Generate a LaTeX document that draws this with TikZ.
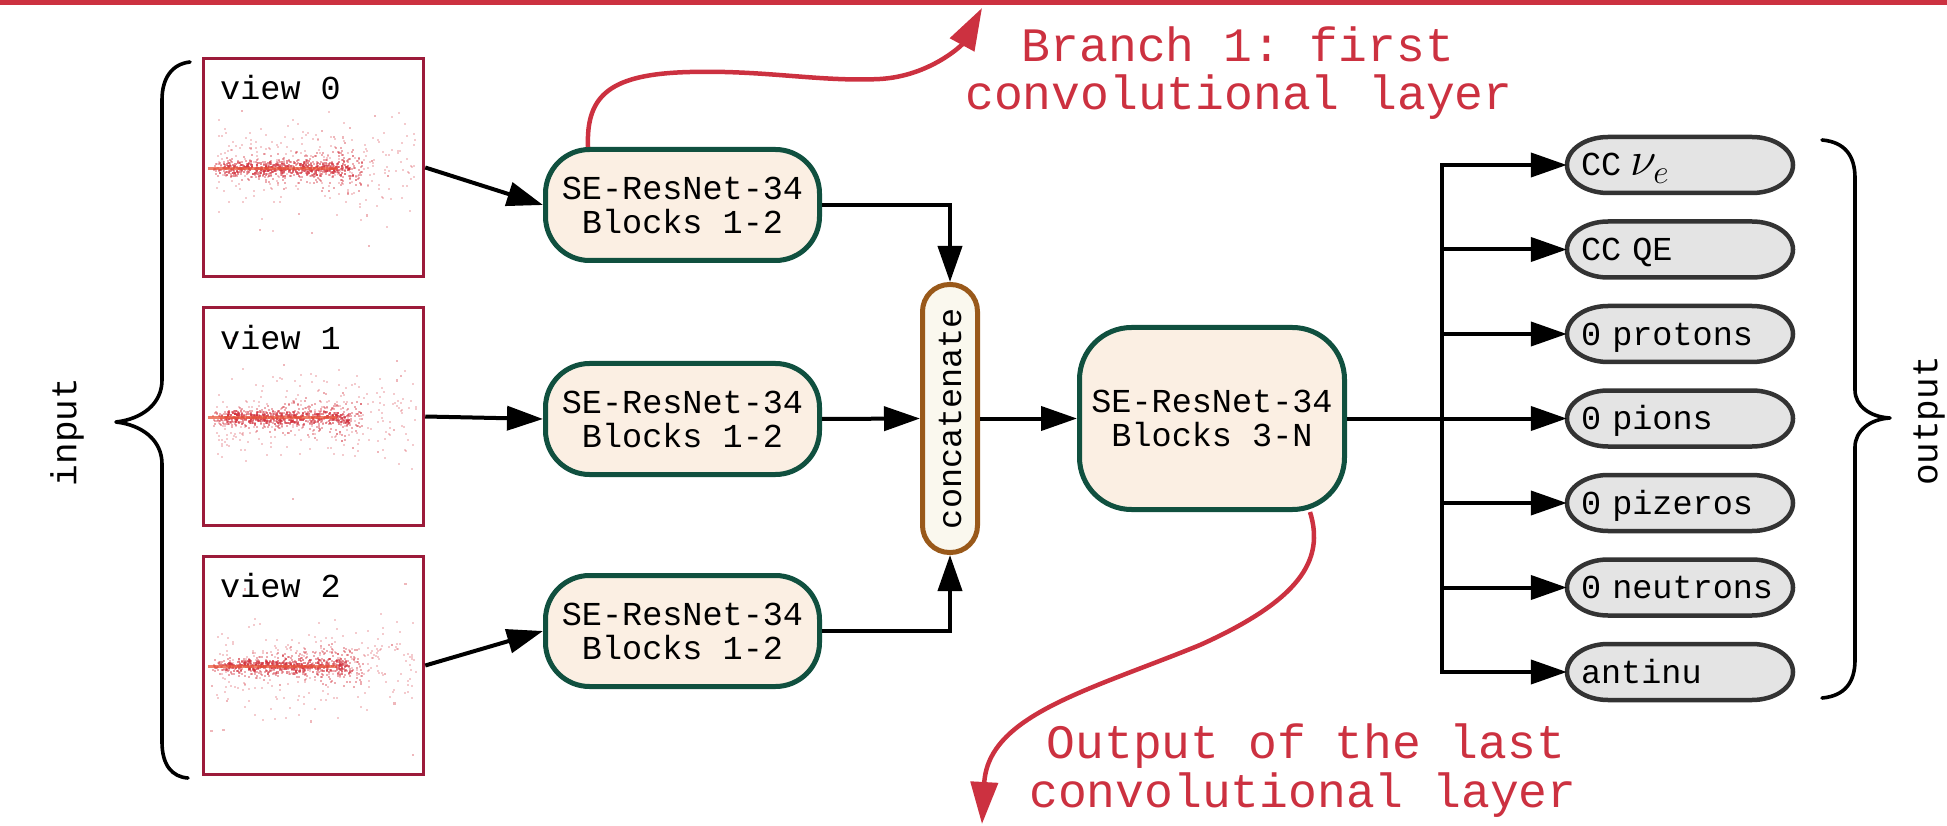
\RequirePackage{fix-cm}
\documentclass[tikz,border=0pt]{standalone}
\usepackage{fontspec}
\usepackage{graphicx}
\setmonofont{Liberation Mono}
\usetikzlibrary{arrows.meta,calc}

\definecolor{netred}{HTML}{CC3140}
\definecolor{blockfill}{HTML}{FBEFE3}
\definecolor{blockedge}{HTML}{10503F}
\definecolor{catedge}{HTML}{99591A}
\definecolor{catfill}{HTML}{FAF8EE}
\definecolor{outfill}{HTML}{E4E4E4}
\definecolor{outedge}{HTML}{333333}
\definecolor{viewedge}{HTML}{9C1B3A}
\definecolor{hitred}{HTML}{D2303C}
\definecolor{hitcore}{HTML}{E8553A}

\newcommand\blocktt{\ttfamily\fontsize{33.5}{34}\selectfont}
\newcommand\redtt{\ttfamily\fontsize{48}{48}\selectfont}
\newcommand\sidett{\ttfamily\fontsize{36}{36}\selectfont}

% scattered hits of one detector view, around the west anchor of a view box
\newcommand\hitcloud[2]{%
  \begin{scope}[shift={(#1.west)}]
    \pgfmathsetseed{#2}
    \foreach \k in {1,...,260}{
      \pgfmathsetmacro\hitx{14+200*rnd}
      \pgfmathsetmacro\hity{(rnd+rnd+rnd-1.5)*44}
      \fill[hitred, opacity=0.25] (\hitx,\hity) rectangle ++(2,2);
    }
    \foreach \k in {1,...,380}{
      \pgfmathsetmacro\hitx{10+150*rnd}
      \pgfmathsetmacro\hity{(rnd+rnd+rnd-1.5)*(6+0.11*\hitx)}
      \fill[hitred, opacity=0.4] (\hitx,\hity) rectangle ++(2,2);
    }
    \foreach \k in {1,...,320}{
      \pgfmathsetmacro\hitx{22+125*rnd}
      \pgfmathsetmacro\hity{(rnd+rnd-1)*8}
      \fill[hitred, opacity=0.55] (\hitx,\hity) rectangle ++(2.2,2.2);
    }
    \foreach \k in {1,...,12}{
      \pgfmathsetmacro\hitx{8+205*rnd}
      \pgfmathsetmacro\hity{rand*100}
      \fill[hitred, opacity=0.35] (\hitx,\hity) rectangle ++(2.2,2.2);
    }
    \draw[hitcore, line width=2.2pt, opacity=0.75] (6,1) -- (135,1);
  \end{scope}%
}

% one output head: an oval with half-elliptic ends and a left-aligned label
\newcommand\outhead[3]{%
  \draw[ovalpath] (1680-72,#2-28) -- (1680+72,#2-28)
    arc[start angle=-90, end angle=90, x radius=41, y radius=28]
    -- (1680-72,#2+28)
    arc[start angle=90, end angle=270, x radius=41, y radius=28] -- cycle;
  \node[outnode] (#1) at (1680,#2) {#3};%
}

\begin{document}
\begin{tikzpicture}[x=1pt, y=-1pt,
  view/.style={draw=viewedge, line width=3.5pt, minimum width=220pt,
    minimum height=218pt, inner sep=0pt},
  viewlabel/.style={anchor=base west, inner sep=0pt, font=\blocktt},
  block/.style={draw=blockedge, fill=blockfill, line width=5pt,
    rounded corners=44pt, minimum width=274pt, minimum height=111pt,
    inner sep=0pt, align=center, font=\blocktt},
  bigblock/.style={block, rounded corners=52pt, minimum width=265pt,
    minimum height=182pt},
  catnode/.style={draw=catedge, fill=catfill, line width=5pt,
    rounded corners=27pt, minimum width=55pt, minimum height=268pt,
    inner sep=0pt, font=\blocktt},
  ovalpath/.style={draw=outedge, fill=outfill, line width=4.5pt},
  outnode/.style={minimum height=56pt, text width=198pt,
    inner xsep=14pt, inner ysep=0pt, align=left, text height=22pt,
    text depth=0pt, font=\blocktt},
  wire/.style={line width=4pt},
  arr/.style={wire, -{Triangle[length=36pt,width=24pt]}},
  redarr/.style={netred, line width=4.5pt,
    -{Triangle[length=42pt,width=27pt]}},
  redtext/.style={anchor=base, inner sep=0pt, text=netred, font=\redtt},
  sidetext/.style={rotate=90, inner sep=0pt, font=\sidett},
  brace/.style={line width=3.6pt, line cap=round, line join=round}]

\useasboundingbox (0,0) rectangle (1947,826);

% top rule
\draw[netred, line width=5pt] (0,2.5) -- (1947,2.5);

% input views
\node[view] (view0) at (313.5,167.5) {};
\node[view] (view1) at (313.5,416.5) {};
\node[view] (view2) at (313.5,665.5) {};
\hitcloud{view0}{11}
\hitcloud{view1}{23}
\hitcloud{view2}{37}
\node[viewlabel] (lab0) at (220,100) {view 0};
\node[viewlabel] (lab1) at (220,349) {view 1};
\node[viewlabel] (lab2) at (220,597) {view 2};

% input brace and label
\draw[brace] (190,62) .. controls (172,64) and (162,78) .. (162,100)
  -- (162,380) .. controls (162,404) and (142,419) .. (116,422)
  .. controls (142,425) and (162,440) .. (162,464)
  -- (162,742) .. controls (162,765) and (172,777) .. (188,778);
\node[sidetext] (inlab) at (67,432) {input};

% per-view branches
\node[block] (A1) at (682.5,205) {SE-ResNet-34\\Blocks 1-2};
\node[block] (A2) at (682.5,419) {SE-ResNet-34\\Blocks 1-2};
\node[block] (A3) at (682.5,631) {SE-ResNet-34\\Blocks 1-2};

\draw[arr] (view0.east) -- (A1.west);
\draw[arr] (view1.east) -- (A2.west);
\draw[arr] (view2.east) -- (A3.west);

% merge
\node[catnode] (cat) at (950,418.5) {\rotatebox{90}{concatenate}};
\draw[arr] (A1.east) -| (cat.north);
\draw[arr] (A2.east) -- (cat.west);
\draw[arr] (A3.east) -| (cat.south);

\node[bigblock] (B) at (1212,418.5) {SE-ResNet-34\\Blocks 3-N};
\draw[arr] (cat.east) -- (B.west);

% output heads
\outhead{o1}{165}{CC\hspace{9pt}{\fontsize{48}{48}\selectfont$\nu_e$}}
\outhead{o2}{249.5}{CC QE}
\outhead{o3}{334}{0 protons}
\outhead{o4}{418.5}{0 pions}
\outhead{o5}{503}{0 pizeros}
\outhead{o6}{587.5}{0 neutrons}
\outhead{o7}{672}{antinu}

\coordinate (bus) at (1442,0);
\draw[wire, line cap=rect] (o1.west -| bus) -- (o7.west -| bus);
\draw[arr] (B.east) -- (o4.west);
\foreach \o in {o1,o2,o3,o5,o6,o7}{
  \draw[arr] (\o.west -| bus) -- (\o.west);
}

% output brace and label
\draw[brace] (1822,140) .. controls (1845,142) and (1855,156) .. (1855,178)
  -- (1855,390) .. controls (1855,406) and (1870,417) .. (1890,418)
  .. controls (1870,419) and (1855,431) .. (1855,447)
  -- (1855,660) .. controls (1855,682) and (1845,696) .. (1822,698);
\node[sidetext] (outlab) at (1929,421) {output};

% tapped feature maps
\coordinate (tapA) at ($(A1.north west)+(45,0)$);
\coordinate (tipA) at (982,8);
\draw[redarr] (tapA) .. controls (586,95) and (610,74) .. (690,72)
  .. controls (765,70) and (820,82) .. (880,79)
  .. controls (930,76) and (962,45) .. (tipA);
\node[redtext] (brA1) at (1238,62) {Branch 1: first};
\node[redtext] (brA2) at (1239,110) {convolutional layer};

\coordinate (tapB) at ($(B.south east)+(-37,0)$);
\coordinate (tipB) at (982,824);
\draw[redarr] (tapB) .. controls (1325,560) and (1300,600) .. (1200,645)
  .. controls (1090,690) and (988,715) .. (tipB);
\node[redtext] (brB1) at (1306,758) {Output of the last};
\node[redtext] (brB2) at (1303,807) {convolutional layer};

\end{tikzpicture}
\end{document}
